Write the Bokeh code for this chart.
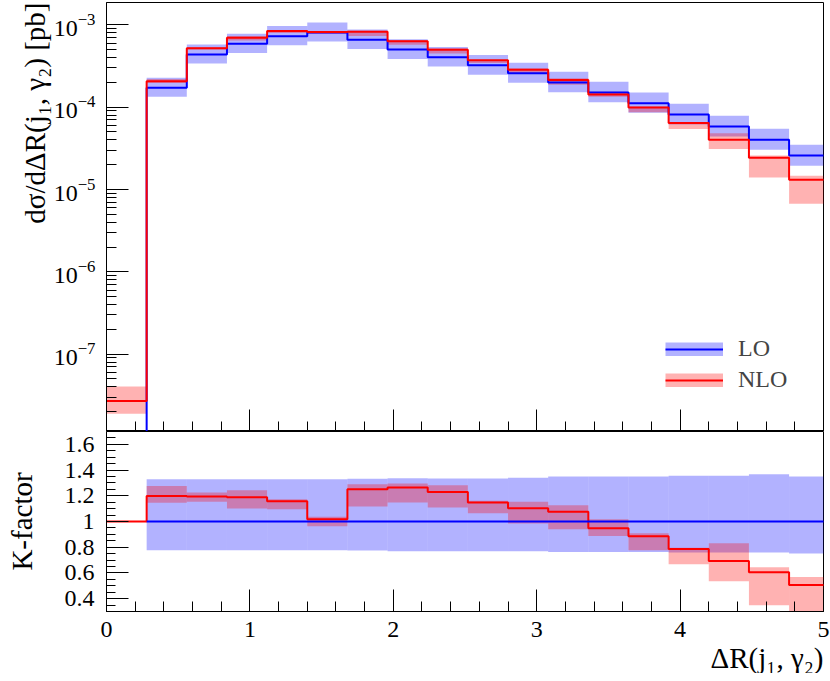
import numpy as np
from bokeh.plotting import figure
from bokeh.layouts import column
from bokeh.models import (Range1d, LogTicker, SingleIntervalTicker, CustomJSTickFormatter,
                          Legend, LegendItem, Title, ColumnDataSource)
from bokeh.embed import file_html
from bokeh.resources import INLINE

nan = float("nan")

# ---------------- data ----------------
bin_edges = [0.00, 0.28, 0.56, 0.84, 1.12, 1.40, 1.68, 1.96, 2.24, 2.52,
             2.80, 3.08, 3.36, 3.64, 3.92, 4.20, 4.48, 4.76, 5.04]

# LO cross section per bin [pb]
lo_xsec = [0.0, 1.72e-4, 4.36e-4, 5.88e-4, 7.27e-4, 8.06e-4, 6.58e-4, 5.01e-4, 4.05e-4,
           3.23e-4, 2.58e-4, 1.99e-4, 1.51e-4, 1.12e-4, 8.14e-5, 5.82e-5, 4.01e-5, 2.59e-5]
# LO scale band relative to LO central
lo_rel_up = [nan, 1.329, 1.329, 1.329, 1.329, 1.329, 1.332, 1.337, 1.334, 1.334,
             1.340, 1.350, 1.350, 1.350, 1.355, 1.355, 1.368, 1.350]
lo_rel_down = [nan, 0.777, 0.777, 0.777, 0.777, 0.777, 0.775, 0.769, 0.769, 0.769,
               0.769, 0.763, 0.763, 0.763, 0.759, 0.759, 0.759, 0.751]
# K-factor NLO/LO with its scale band
k_nlo = [1.0, 1.199, 1.195, 1.189, 1.158, 1.018, 1.251, 1.265, 1.230, 1.148,
         1.103, 1.075, 0.948, 0.886, 0.787, 0.693, 0.605, 0.507]
k_nlo_up = [nan, 1.277, 1.226, 1.244, 1.174, 1.036, 1.290, 1.296, 1.282, 1.161,
            1.153, 1.127, 1.018, 0.909, 0.795, 0.831, 0.644, 0.569]
k_nlo_down = [nan, 1.145, 1.153, 1.101, 1.096, 0.963, 1.117, 1.148, 1.109, 1.065,
              0.984, 0.940, 0.888, 0.777, 0.668, 0.535, 0.349, 0.259]
# NLO in the first bin, where LO vanishes: central, down, up [pb]
nlo_first_bin = [2.69e-8, 1.89e-8, 4.06e-8]

# ---------------- derived ----------------
edges = np.array(bin_edges)
lo = np.array(lo_xsec)
has_lo = lo > 0
lo_up = lo * np.array(lo_rel_up)
lo_dn = lo * np.array(lo_rel_down)
k = np.array(k_nlo)
nlo = np.where(has_lo, k * lo, nlo_first_bin[0])
nlo_dn = np.where(has_lo, np.array(k_nlo_down) * lo, nlo_first_bin[1])
nlo_up = np.where(has_lo, np.array(k_nlo_up) * lo, nlo_first_bin[2])
lo_plot = np.where(has_lo, lo, 1e-14)
k_lo = np.where(has_lo, lo / np.where(has_lo, lo, 1.0), nan)
k_lo_up = np.array(lo_rel_up)
k_lo_dn = np.array(lo_rel_down)

def ext(a):
    return list(a) + [a[-1]]

FONT = "Liberation Serif"
BLUE = "#0000ff"
RED = "#ff0000"
TICK_FS = "24px"
LABEL_FS = "29px"

xr = Range1d(0, 5)

def style(p):
    p.grid.visible = False
    p.outline_line_color = "black"
    p.outline_line_width = 1
    p.background_fill_color = "white"
    p.border_fill_color = "white"
    for ax in (p.xaxis[0], p.yaxis[0]):
        ax.axis_line_color = "black"
        ax.major_tick_line_color = "black"
        ax.minor_tick_line_color = "black"
        ax.major_tick_out = 0
        ax.minor_tick_out = 0
        ax.major_tick_in = 22
        ax.minor_tick_in = 10
        ax.major_label_text_font = FONT
        ax.major_label_text_font_size = TICK_FS
        ax.major_label_text_color = "black"

# ---------------- top panel ----------------
p1 = figure(x_range=xr, y_range=Range1d(1.15e-8, 1.87e-3), y_axis_type="log",
            frame_width=717, frame_height=429, min_border_left=106, min_border_right=7,
            min_border_top=2, min_border_bottom=0,
            output_backend="svg", toolbar_location=None)
style(p1)
p1.xaxis.ticker = SingleIntervalTicker(interval=1, num_minor_ticks=5)
p1.xaxis.formatter = CustomJSTickFormatter(code="return ''")
p1.xaxis.major_label_text_font_size = "0px"
p1.xaxis.major_label_standoff = 0
p1.yaxis.ticker = LogTicker(num_minor_ticks=10)
p1.yaxis.major_label_standoff = 11

p1.quad(left=edges[:-1], right=edges[1:], bottom=lo_dn, top=lo_up,
        fill_color=BLUE, fill_alpha=0.3, line_color=None)
p1.quad(left=edges[:-1], right=edges[1:], bottom=nlo_dn, top=nlo_up,
        fill_color=RED, fill_alpha=0.3, line_color=None)
lo_line = p1.step(x=edges, y=ext(lo_plot), mode="after", line_color=BLUE, line_width=2)
nlo_line = p1.step(x=edges, y=ext(nlo), mode="after", line_color=RED, line_width=2)

# legend proxies for the bands (band data, hidden in the plot, shown in the legend)
lo_band_src = ColumnDataSource(dict(x0=edges[:-1], x1=edges[1:], y=lo_up))
nlo_band_src = ColumnDataSource(dict(x0=edges[:-1], x1=edges[1:], y=nlo_up))
lo_proxy = p1.segment(x0="x0", y0="y", x1="x1", y1="y", source=lo_band_src,
                      line_color=BLUE, line_alpha=0.3, line_width=14, line_cap="butt")
nlo_proxy = p1.segment(x0="x0", y0="y", x1="x1", y1="y", source=nlo_band_src,
                       line_color=RED, line_alpha=0.3, line_width=14, line_cap="butt")
lo_proxy.visible = False
nlo_proxy.visible = False
legend = Legend(items=[LegendItem(label="LO", renderers=[lo_proxy, lo_line]),
                       LegendItem(label="NLO", renderers=[nlo_proxy, nlo_line])],
                location=(559, 38), glyph_width=58, glyph_height=14, label_standoff=15,
                spacing=4, padding=0, margin=0, border_line_color=None,
                background_fill_alpha=0, label_text_font=FONT, label_text_font_size="24px")
p1.add_layout(legend)

p1.add_layout(Title(text="dσ/dΔR(j₁, γ₂) [pb]", align="right", text_font=FONT,
                    text_font_size=LABEL_FS, text_font_style="normal",
                    text_color="black", standoff=0), "left")

# ---------------- bottom panel ----------------
p2 = figure(x_range=xr, y_range=Range1d(0.3, 1.7),
            frame_width=717, frame_height=180, min_border_left=106, min_border_right=7,
            min_border_top=0, min_border_bottom=0,
            output_backend="svg", toolbar_location=None)
style(p2)
p2.xaxis.ticker = SingleIntervalTicker(interval=1, num_minor_ticks=5)
p2.xaxis.major_label_standoff = 10
p2.yaxis.ticker = SingleIntervalTicker(interval=0.2, num_minor_ticks=4)
p2.yaxis.minor_tick_in = 9
p2.yaxis.formatter = CustomJSTickFormatter(code="return String(parseFloat(tick.toFixed(2)))")
p2.yaxis.major_label_standoff = 12
p2.yaxis.axis_label = "K-factor"
p2.yaxis.axis_label_text_font = FONT
p2.yaxis.axis_label_text_font_size = LABEL_FS
p2.yaxis.axis_label_text_font_style = "normal"
p2.yaxis.axis_label_text_color = "black"
p2.yaxis.axis_label_standoff = 24

p2.quad(left=edges[:-1], right=edges[1:], bottom=k_lo_dn, top=k_lo_up,
        fill_color=BLUE, fill_alpha=0.3, line_color=None)
p2.quad(left=edges[:-1], right=edges[1:], bottom=np.array(k_nlo_down), top=np.array(k_nlo_up),
        fill_color=RED, fill_alpha=0.3, line_color=None)
p2.step(x=edges, y=ext(k), mode="after", line_color=RED, line_width=2)
p2.step(x=edges, y=ext(k_lo), mode="after", line_color=BLUE, line_width=2)

p2.add_layout(Title(text="ΔR(j₁, γ₂)", align="right", text_font=FONT,
                    text_font_size=LABEL_FS, text_font_style="normal",
                    text_color="black", standoff=0), "below")

layout = column(p1, p2, spacing=0)
open("out.html", "w").write(file_html(layout, INLINE))
